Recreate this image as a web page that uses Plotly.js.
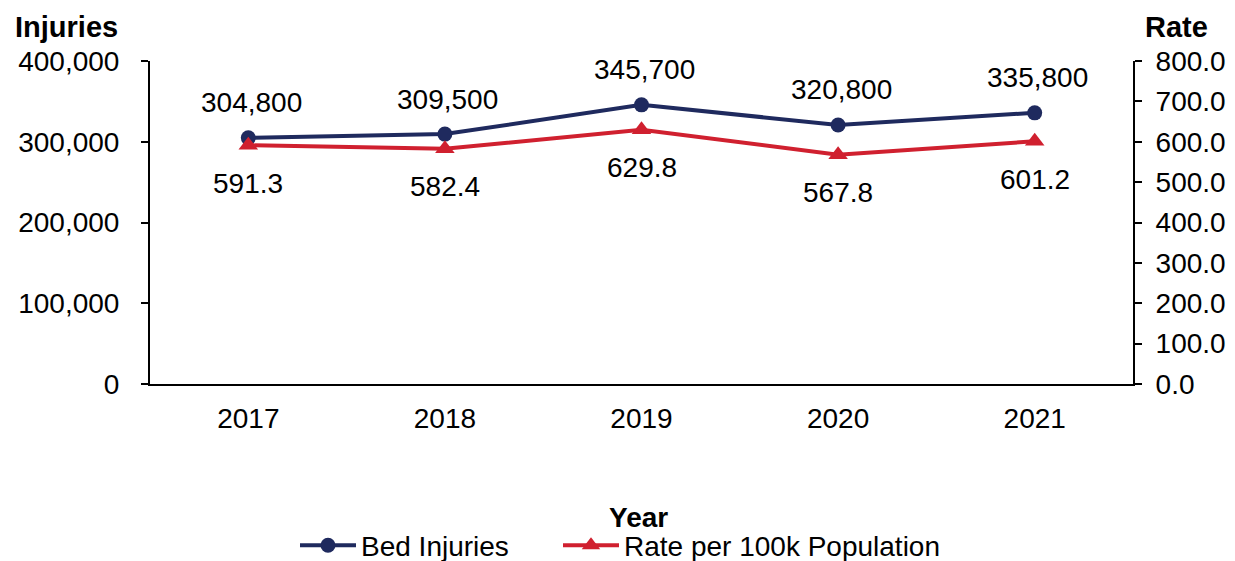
<!DOCTYPE html>
<html><head><meta charset="utf-8">
<script src="https://cdn.plot.ly/plotly-3.0.1.min.js"></script>
<style>html,body{margin:0;padding:0;background:#fff}#chart{width:1235px;height:561px}</style>
</head><body><div id="chart"></div>
<script>
const years = ['2017','2018','2019','2020','2021'];
const bedInjuries = [304800, 309500, 345700, 320800, 335800];
const ratePer100k = [591.3, 582.4, 629.8, 567.8, 601.2];
const leftTicks = [0, 100000, 200000, 300000, 400000];
const rightTicks = [0, 100, 200, 300, 400, 500, 600, 700, 800];

const navy = '#1F2A5E';
const red = '#D0202F';
const fnt = 'Liberation Sans, Arial, sans-serif';
const FS = 28;

const traces = [
  {
    x: years, y: bedInjuries, name: 'Bed Injuries', type: 'scatter', mode: 'lines+markers',
    line: {color: navy, width: 4}, marker: {symbol: 'circle', size: 15, color: navy},
    cliponaxis: false, yaxis: 'y', legend: 'legend'
  },
  {
    x: years, y: ratePer100k, name: 'Rate per 100k Population', type: 'scatter', mode: 'lines+markers',
    line: {color: red, width: 4}, marker: {symbol: 'triangle-up', size: 17, color: red},
    cliponaxis: false, yaxis: 'y2', legend: 'legend2'
  }
];

const labelAnns = [];
years.forEach((yr, i) => {
  labelAnns.push({x: i, y: bedInjuries[i], xref: 'x', yref: 'y', text: bedInjuries[i].toLocaleString('en-US'),
    showarrow: false, xanchor: 'center', yanchor: 'middle', yshift: 35, xshift: 3,
    font: {family: fnt, size: FS, color: '#000'}});
  labelAnns.push({x: i, y: ratePer100k[i], xref: 'x', yref: 'y2', text: ratePer100k[i].toFixed(1),
    showarrow: false, xanchor: 'center', yanchor: 'middle', yshift: -38,
    font: {family: fnt, size: FS, color: '#000'}});
});

const legendBase = {orientation: 'h', xref: 'container', yref: 'container', xanchor: 'left', y: 0.072, yanchor: 'top',
  font: {family: fnt, size: FS, color: '#000'}, itemwidth: 56, bgcolor: 'rgba(0,0,0,0)'};

const layout = {
  width: 1235, height: 561,
  margin: {l: 150, r: 102, t: 61, b: 177},
  paper_bgcolor: '#fff', plot_bgcolor: '#fff',
  font: {family: fnt, size: FS, color: '#000'},
  showlegend: true,
  legend: Object.assign({}, legendBase, {x: 295/1235}),
  legend2: Object.assign({}, legendBase, {x: 558/1235}),
  xaxis: {
    type: 'category', range: [-0.5, 4.5], showgrid: false, zeroline: false,
    showline: true, linecolor: '#000', linewidth: 2, ticks: '', ticklen: 0,
    tickfont: {family: fnt, size: FS}, ticklabelstandoff: 8, fixedrange: true
  },
  yaxis: {
    range: [0, 400000], tickvals: leftTicks, ticktext: leftTicks.map(v => v.toLocaleString('en-US')),
    showgrid: false, zeroline: false, showline: true, linecolor: '#000', linewidth: 2,
    ticks: 'outside', ticklen: 7, tickwidth: 2, tickcolor: '#000',
    tickfont: {family: fnt, size: FS}, ticklabelstandoff: 16
  },
  yaxis2: {
    range: [0, 800], overlaying: 'y', side: 'right', tickvals: rightTicks,
    ticktext: rightTicks.map(v => v.toFixed(1)),
    showgrid: false, zeroline: false, showline: true, linecolor: '#000', linewidth: 2,
    ticks: 'outside', ticklen: 7, tickwidth: 2, tickcolor: '#000',
    tickfont: {family: fnt, size: FS}, ticklabelstandoff: 8
  },
  annotations: [
    {text: '<b>Injuries</b>', xref: 'paper', yref: 'paper', x: -0.139, y: 1.050, xanchor: 'left', yanchor: 'bottom', showarrow: false, font: {family: fnt, size: 29}},
    {text: '<b>Rate</b>', xref: 'paper', yref: 'paper', x: 1.010, y: 1.050, xanchor: 'left', yanchor: 'bottom', showarrow: false, font: {family: fnt, size: 29}},
    {text: '<b>Year</b>', xref: 'paper', yref: 'paper', x: 0.497, y: -0.360, xanchor: 'center', yanchor: 'top', showarrow: false, font: {family: fnt, size: 28}}
  ].concat(labelAnns)
};

Plotly.newPlot('chart', traces, layout, {staticPlot: true, displayModeBar: false});
</script></body></html>
